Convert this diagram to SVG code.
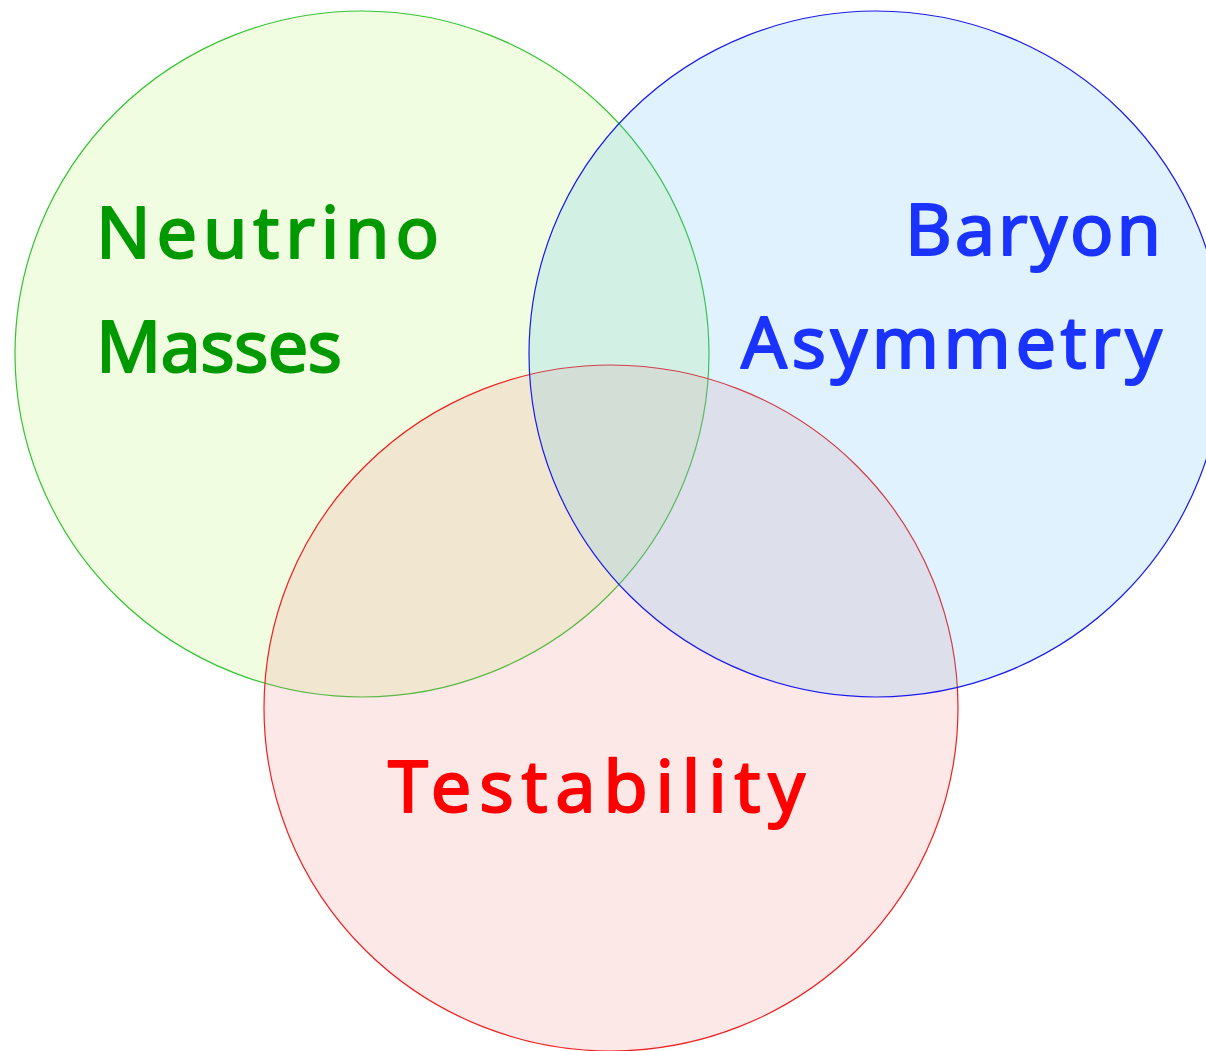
<svg xmlns="http://www.w3.org/2000/svg" width="1206" height="1051" viewBox="0 0 1206 1051">
  <style>
    .set { stroke-width: 1.2; fill-opacity: 0.2; }
    .label { font-family: "Noto Sans", "DejaVu Sans", sans-serif; font-size: 72px; stroke-width: 2; stroke-linejoin: round; }
  </style>
  <rect width="1206" height="1051" fill="#ffffff"/>
  <!-- three overlapping sets -->
  <g id="neutrino-masses">
    <ellipse class="set" cx="362" cy="354" rx="347" ry="343" fill="#b9f564" stroke="#33c433"/>
  </g>
  <g id="testability">
    <ellipse class="set" cx="611" cy="708" rx="347" ry="343" fill="#f58c8c" stroke="#ee2020"/>
  </g>
  <g id="baryon-asymmetry">
    <ellipse class="set" cx="876" cy="354" rx="347" ry="343" fill="#5fbef5" stroke="#1a1aee"/>
  </g>
  <!-- set labels -->
  <g id="labels">
    <text class="label" fill="#009900" stroke="#009900" x="96" y="258" textLength="343" lengthAdjust="spacing">Neutrino</text>
    <text class="label" fill="#009900" stroke="#009900" x="96" y="372" textLength="246" lengthAdjust="spacing">Masses</text>
    <text class="label" fill="#1a33ff" stroke="#1a33ff" x="905" y="255" textLength="256" lengthAdjust="spacing">Baryon</text>
    <text class="label" fill="#1a33ff" stroke="#1a33ff" x="741" y="368" textLength="421" lengthAdjust="spacing">Asymmetry</text>
    <text class="label" fill="#ff0000" stroke="#ff0000" x="388" y="812" textLength="417" lengthAdjust="spacing">Testability</text>
  </g>
  <g id="connectors"/>
</svg>
